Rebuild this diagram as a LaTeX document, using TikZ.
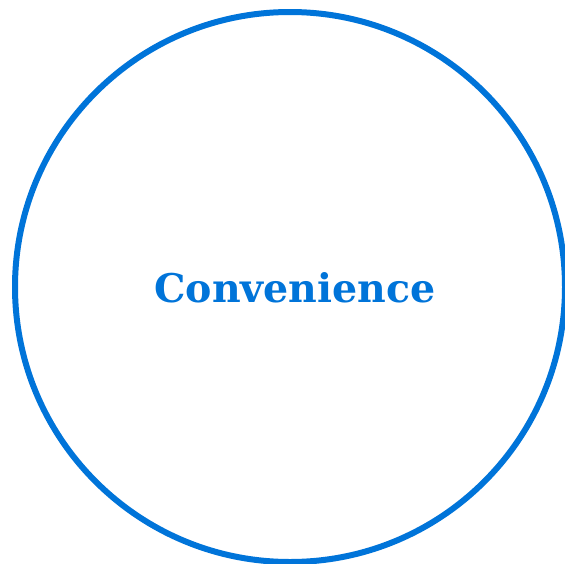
\documentclass[tikz,border=0pt]{standalone}
\usepackage{fontspec}
\newfontfamily\labelfont{DejaVu Serif}
\definecolor{ringblue}{RGB}{0,116,217}
\tikzset{
  ring/.style={draw=ringblue, line width=6pt},
  ringlabel/.style={text=ringblue, font=\labelfont\bfseries\fontsize{39.5}{47}\selectfont, inner sep=0pt}
}
\begin{document}
\begin{tikzpicture}[x=1pt,y=-1pt]
  \useasboundingbox (0,0) rectangle (565,563);
  % outer ring, cut by the page edges on the right and bottom
  \begin{scope}
    \clip (0,0) rectangle (565,563);
    \fill[white] (0,0) rectangle (565,563);
    \draw[ring] (290,287) circle (275);
  \end{scope}
  % title in the middle
  \node[ringlabel] (title) at (295,288) {Convenience};
\end{tikzpicture}
\end{document}
